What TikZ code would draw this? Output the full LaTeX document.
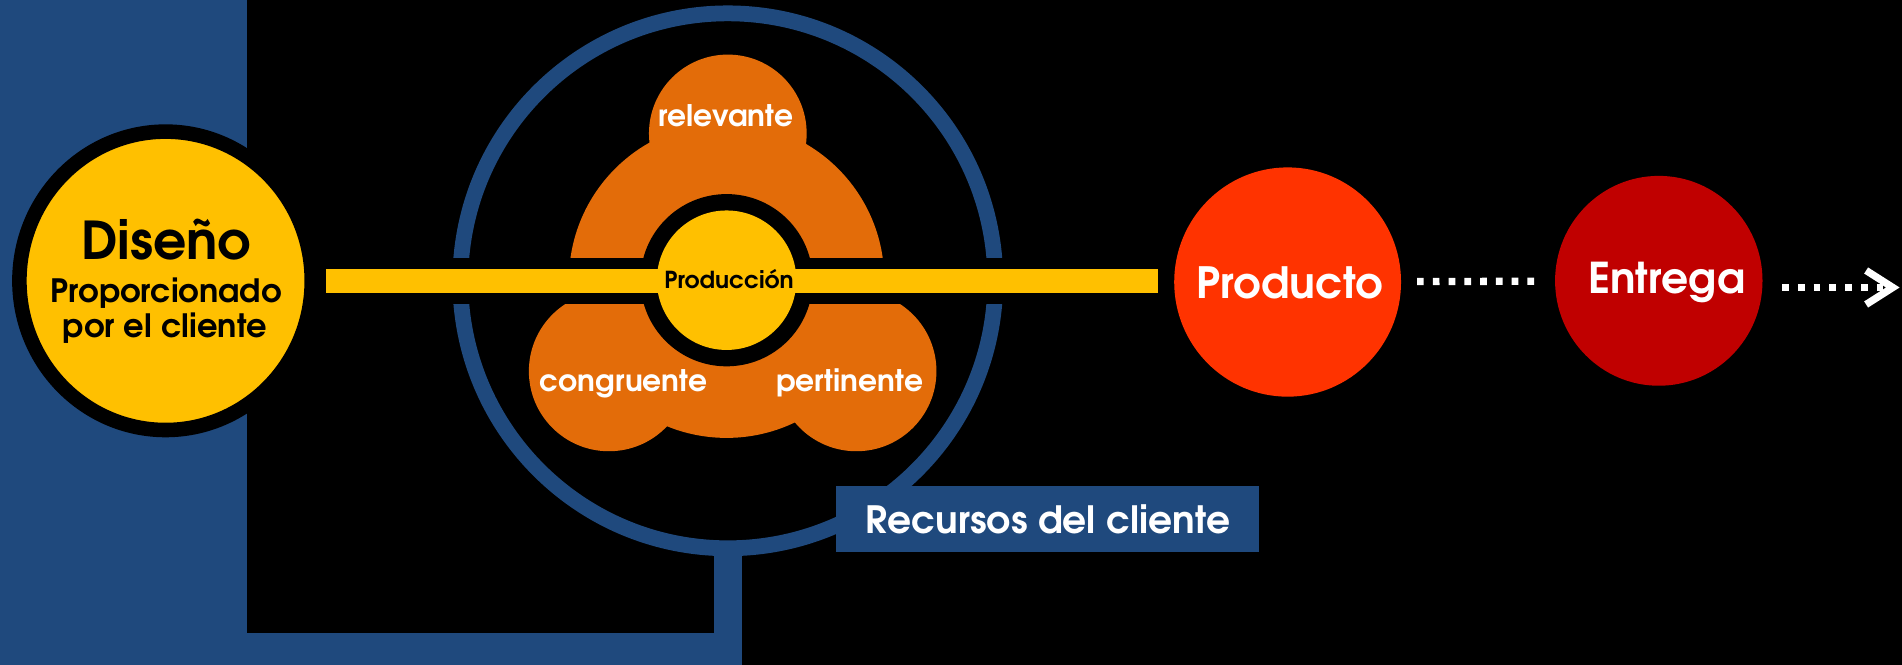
\documentclass[tikz,border=0pt]{standalone}
\usepackage{fontspec}
\setmainfont{TeX Gyre Adventor}
\usetikzlibrary{shapes.geometric,arrows.meta}
\definecolor{cblue}{HTML}{1F497D}
\definecolor{cyellow}{HTML}{FFC000}
\definecolor{corange}{HTML}{E36C09}
\definecolor{cprod}{HTML}{FF3300}
\definecolor{cent}{HTML}{C00000}
\pgfdeclarelayer{back}
\pgfdeclarelayer{mid}
\pgfsetlayers{back,mid,main}
\tikzset{
  txt/.style={anchor=base, inner sep=0pt, font=\bfseries\fontsize{#1}{#1}\selectfont},
  lobetxt/.style={txt=24.5, text=white},
  disc/.style={ellipse, inner sep=0pt},
  dots/.style={draw=white, line width=6pt, dash pattern=on 5.5pt off 7.5pt},
  bar/.style={draw=cyellow, line width=20pt},
}
\begin{document}
\begin{tikzpicture}[x=1pt,y=-1pt]
\useasboundingbox (0,0) rectangle (1568,548);
% main nodes
\node[disc, fill=cyellow, draw=black, line width=12pt, minimum width=241pt, minimum height=246pt] (diseno) at (136.5,231.5) {};
\node[txt=43] (t1) at (137,214) {Diseño};
\node[txt=26.5] (t2) at (137,249) {Proporcionado};
\node[txt=26.5] (t3) at (136,278) {por el cliente};
\node[circle, fill=cyellow, minimum size=115pt, inner sep=0pt] (produccion) at (599,231) {};
\node[txt=19.3] (t4) at (601,238) {Producción};
\node[lobetxt] (relevante) at (598.5,104) {relevante};
\node[lobetxt] (congruente) at (514,323) {congruente};
\node[lobetxt] (pertinente) at (700.5,323) {pertinente};
\node[disc, fill=cprod, minimum width=187pt, minimum height=189pt] (producto) at (1061.5,232.5) {};
\node[txt=35.5, text=white] (t5) at (1063.5,246) {Producto};
\node[disc, fill=cent, minimum width=171pt, minimum height=173pt] (entrega) at (1367.5,231.5) {};
\node[txt=35, text=white] (t6) at (1374,242) {Entrega};
\node[fill=cblue, minimum width=349pt, minimum height=54pt, inner sep=0pt] (recursos) at (863.5,428) {};
\node[txt=31, text=white] (t7) at (864,440) {Recursos del cliente};
\coordinate (arrowend) at (1566,237);
% background layer
\begin{pgfonlayer}{back}
\fill[black] (0,0) rectangle (1568,548);
\fill[cblue] (0,0) rectangle (204,548);
\fill[cblue] (0,522) rectangle (612,548);
\fill[cblue] (589,452) rectangle (612,548);
\draw[cblue, line width=13pt] (600,231.5) circle (220.5pt);
\fill[corange] (599,231) circle (130pt) (600,110) circle (65pt) (502,306) circle (66pt) (706,306) circle (66pt);
\fill[black] (365,213) rectangle (835,251);
\fill[black] (produccion.center) circle (71pt);
\end{pgfonlayer}
% connectors
\begin{pgfonlayer}{mid}
\draw[bar, shorten <=6pt, shorten >=13pt] (diseno) -- (diseno -| producto.west);
\draw[dots, shorten <=13pt, shorten >=17pt] (producto) -- (entrega);
\draw[dots, shorten <=16pt, -{Straight Barb[length=22pt,width=28pt]}] (entrega.east |- arrowend) -- (arrowend);
\end{pgfonlayer}
\end{tikzpicture}
\end{document}
